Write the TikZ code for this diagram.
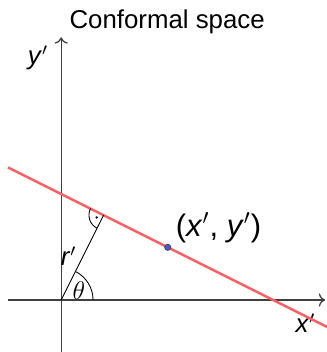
\documentclass[tikz,border=0pt]{standalone}
\usepackage{fontspec}
\setmainfont{Liberation Sans}
\usetikzlibrary{arrows.meta,positioning,calc}
\definecolor{linered}{RGB}{250,95,95}
\definecolor{pointblue}{RGB}{75,85,215}

\begin{document}
\begin{tikzpicture}[every node/.style={font=\fontsize{12}{14}\selectfont}]
        \useasboundingbox (-1.0,-0.85) rectangle (4.33,4.9);

        % Axes
        \coordinate (O) at (0,0);
        \coordinate (xstart) at (-0.87,0);
        \coordinate (xend) at (4.31,0);
        \coordinate (ystart) at (0,-0.86);
        \coordinate (yend) at (0,4.29);
        \draw[black!75, line width=0.6pt, ->] (xstart) -- (xend);
        \draw[black!75, line width=0.6pt, ->] (ystart) -- (yend);
        \node (xlabel) at (3.99,-0.38) {\textit{x}$'$};
        \node (ylabel) at (-0.38,3.95) {\textit{y}$'$};

        % Title
        \node[anchor=base] (title) at (1.73,4.44) {Conformal space};

        % Line in normal form
        \coordinate (A) at (-0.87,2.165);
        \coordinate (B) at (4.35,-0.445);
        \coordinate (F) at (63.43:1.55);
        \coordinate (P) at ($(A)!0.5!(B)$);
        \draw[linered, line width=1.1pt] (A) -- (B);

        % Normal vector r' and angle theta
        \draw[thin] (O) -- (F);
        \draw[thin] (0.52,0) arc[start angle=0, end angle=63.43, radius=0.52];
        \node[font=\fontsize{13}{15}\selectfont] (theta) at (0.29,0.16) {$\theta$};
        \node (rlabel) at (0.12,0.71) {\textit{r}$'$};

        % Right angle mark
        \draw[thin] ($(F)+(153.43:0.24)$) arc[start angle=153.43, end angle=243.43, radius=0.24];
        \fill ($(F)+(198.43:0.12)$) circle (0.6pt);

        % Point on the line
        \filldraw[fill=pointblue, draw=black!70, thin] (P) circle (0.05);
        \node[font=\fontsize{14.4}{17}\selectfont] (plabel) at (2.57,1.18) {(\textit{x}$'$, \textit{y}$'$)};
    \end{tikzpicture}
\end{document}
